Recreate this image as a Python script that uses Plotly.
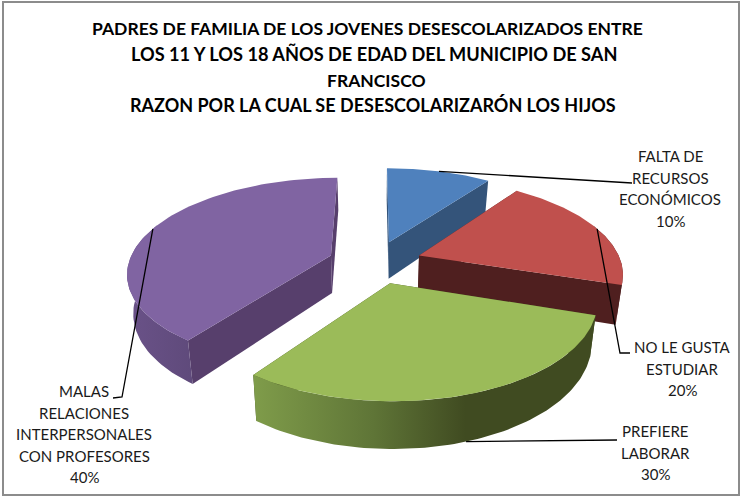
import numpy as np
import plotly.graph_objects as go

# --- data ---
categories = ["FALTA DE RECURSOS ECONÓMICOS", "NO LE GUSTA ESTUDIAR", "PREFIERE LABORAR",
              "MALAS RELACIONES INTERPERSONALES CON PROFESORES"]
values = [10, 20, 30, 40]
pct_labels = ["10%", "20%", "30%", "40%"]
label_lines = [
    ["FALTA DE", "RECURSOS", "ECONÓMICOS", "10%"],
    ["NO LE GUSTA", "ESTUDIAR", "20%"],
    ["PREFIERE", "LABORAR", "30%"],
    ["MALAS", "RELACIONES", "INTERPERSONALES", "CON PROFESORES", "40%"],
]
title_lines = [
    "PADRES DE FAMILIA DE LOS JOVENES DESESCOLARIZADOS ENTRE",
    "LOS 11 Y LOS 18 AÑOS DE EDAD DEL MUNICIPIO DE SAN",
    "FRANCISCO",
    "RAZON POR LA CUAL SE DESESCOLARIZARÓN LOS HIJOS",
]

# --- style / layout ---
top_colors = ["#4F81BD", "#C0504D", "#9BBB59", "#8064A2"]
cut_colors = ["#34547A", "#4F1F1F", "#404B21", "#573F6C"]
wall_scales = [
    [[0, "#34547A"], [1, "#34547A"]],
    [[0, "#4F1F1F"], [1, "#4F1F1F"]],
    [[0, "#7F9C4A"], [0.35, "#5F7537"], [0.62, "#404B21"], [1, "#404B21"]],
    [[0, "#6A5288"], [1, "#5F4A7B"]],
]
draw_order = [0, 1, 3, 2]
radius_scale = [1.0, 1.0, 0.97, 1.0]
CX, CY, RX, RY = 375.0, 262.0, 202.0, 93.0
K, EXPLODE, DEPTH, BOTTOM_SCALE = 0.172, 0.232, 38.0, 0.975
label_centers = [(670, 156), (682, 347), (655, 431), (84, 391)]
label_steps = 21.5
leader_ends = [[(627, 183), (632, 183)], [(620, 353), (630, 353)], [(617, 440)], [(122, 397), (113, 398)]]
title_centers = [(367, 28), (373.5, 54), (376, 80), (372.5, 105)]
title_sizes = [17.5, 18.2, 17.5, 18]
FONT = "Lato"


def project(u, v, bottom=False):
    s = 1.0 / (1.0 + K * v)
    x = RX * u * s
    y = RY * v * s
    if bottom:
        return CX + x * BOTTOM_SCALE, CY - y + DEPTH * s
    return CX + x, CY - y


def slice_uv(a0, a1, r, n=90):
    mid = (a0 + a1) / 2
    ou, ov = EXPLODE * np.sin(mid), EXPLODE * np.cos(mid)
    t = np.linspace(a0, a1, n)
    return ou, ov, ou + r * np.sin(t), ov + r * np.cos(t)


fig = go.Figure()
fracs = np.array(values) / sum(values) * 2 * np.pi
starts = np.concatenate([[0], np.cumsum(fracs)[:-1]])
anchors = {}


def poly(xs, ys, color=None, scale=None):
    kw = dict(fillcolor=color) if scale is None else dict(fillgradient=dict(type="horizontal", colorscale=scale))
    fig.add_trace(go.Scatter(x=xs, y=ys, mode="lines", fill="toself", line=dict(width=0),
                             hoverinfo="skip", showlegend=False, **kw))


for i in draw_order:
    a0, a1 = starts[i], starts[i] + fracs[i]
    r = radius_scale[i]
    ou, ov, us, vs = slice_uv(a0, a1, r)
    tx, ty = project(us, vs)
    bx, by = project(us, vs, True)
    cx_t, cy_t = project(ou, ov)
    cx_b, cy_b = project(ou, ov, True)
    # radial cut walls
    poly([cx_t, tx[0], bx[0], cx_b], [cy_t, ty[0], by[0], cy_b], cut_colors[i])
    poly([cx_t, tx[-1], bx[-1], cx_b], [cy_t, ty[-1], by[-1], cy_b], cut_colors[i])
    # outer wall (only the part facing the viewer)
    front = vs < ov + 0.35
    poly(np.r_[tx[front], bx[front][::-1]], np.r_[ty[front], by[front][::-1]], scale=wall_scales[i])
    # top face
    poly(np.r_[cx_t, tx], np.r_[cy_t, ty], top_colors[i])
    mid = (a0 + a1) / 2
    mu, mv = ou + r * np.sin(mid), ov + r * np.cos(mid)
    anchors[i] = project(mu, mv, bottom=(i == 2))

# leader lines: from each slice's outer mid-point to its label
for i in range(len(values)):
    pts = [anchors[i]] + leader_ends[i]
    fig.add_trace(go.Scatter(x=[p[0] for p in pts], y=[p[1] for p in pts], mode="lines",
                             line=dict(color="black", width=1.3), hoverinfo="skip", showlegend=False))

annotations = []
for line, (x, y), size in zip(title_lines, title_centers, title_sizes):
    annotations.append(dict(x=x, y=y, text=f"<b>{line}</b>", showarrow=False, xanchor="center", yanchor="middle",
                            font=dict(family=FONT, size=size, color="black")))
for lines, (x, y0) in zip(label_lines, label_centers):
    for j, line in enumerate(lines):
        annotations.append(dict(x=x, y=y0 + j * label_steps, text=line, showarrow=False,
                                xanchor="center", yanchor="middle",
                                font=dict(family=FONT, size=15, color="#1a1a1a")))

fig.update_layout(
    width=744, height=498, margin=dict(l=0, r=0, t=0, b=0),
    paper_bgcolor="white", plot_bgcolor="white", showlegend=False,
    xaxis=dict(range=[0, 744], visible=False, fixedrange=True),
    yaxis=dict(range=[498, 0], visible=False, fixedrange=True),
    annotations=annotations,
    shapes=[dict(type="rect", x0=3, y0=2, x1=739, y1=495, line=dict(color="#8c8c8c", width=2), layer="above")],
)
fig.write_html("out.html", config={"displayModeBar": False},
               post_script="document.body.style.margin='0';document.body.style.overflow='hidden';")
